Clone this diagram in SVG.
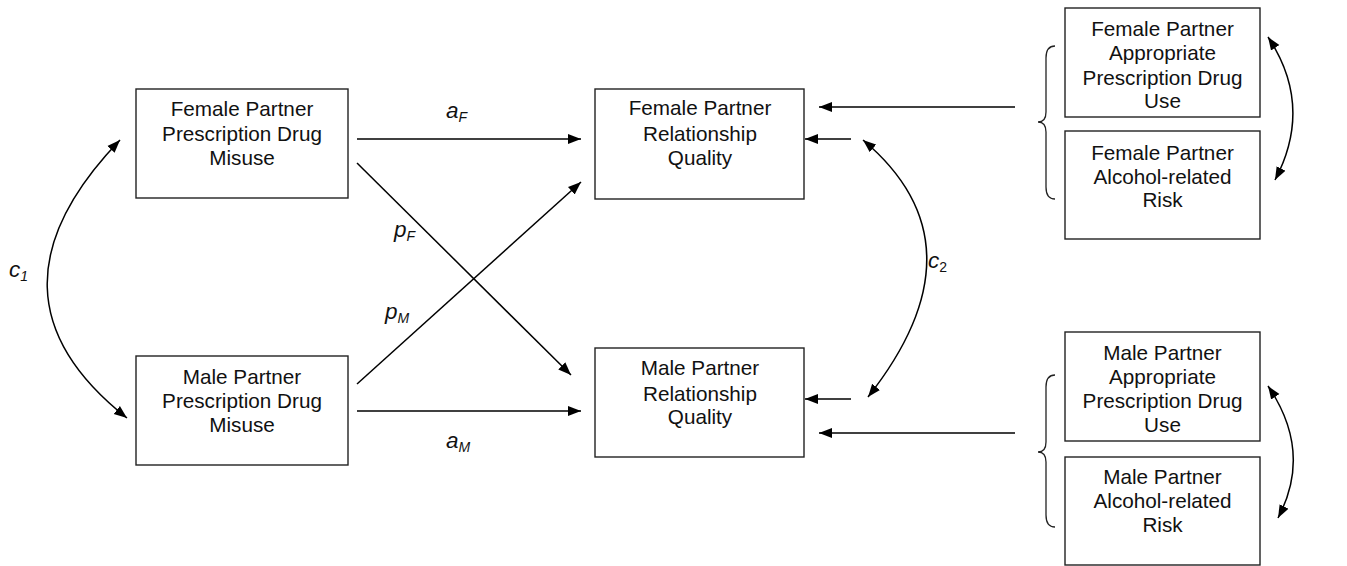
<svg xmlns="http://www.w3.org/2000/svg" width="1347" height="566" viewBox="0 0 1347 566">
<defs>
<marker id="ah" markerUnits="userSpaceOnUse" markerWidth="14" markerHeight="12" refX="13" refY="5" orient="auto-start-reverse" viewBox="0 0 14 10">
<path d="M0,0 L13,5 L0,10 z" fill="#000"/>
</marker>
<style>
.box{fill:#fff;stroke:#222;stroke-width:1.4}
.t{font-family:"Liberation Sans",Arial,sans-serif;font-size:20.7px;fill:#111;text-anchor:middle}
.lbl{font-family:"Liberation Sans",Arial,sans-serif;font-size:22.5px;font-style:italic;fill:#111}
.sub{font-size:14px}
.c{fill:none;stroke:#000;stroke-width:1.5}
.a{fill:none;stroke:#000;stroke-width:1.5;marker-end:url(#ah)}
.d{fill:none;stroke:#000;stroke-width:1.5;marker-start:url(#ah);marker-end:url(#ah)}
.br{fill:none;stroke:#222;stroke-width:1.3}
</style>
</defs>
<rect width="1347" height="566" fill="#fff"/>

<g id="fpdm">
<rect class="box" x="136" y="89" width="212" height="109"/>
<text class="t" x="242" y="116">Female Partner</text>
<text class="t" x="242" y="141">Prescription Drug</text>
<text class="t" x="242" y="165">Misuse</text>
</g>
<g id="mpdm">
<rect class="box" x="136" y="356" width="212" height="109"/>
<text class="t" x="242" y="384">Male Partner</text>
<text class="t" x="242" y="408">Prescription Drug</text>
<text class="t" x="242" y="432">Misuse</text>
</g>
<g id="frq">
<rect class="box" x="595" y="89" width="209" height="110"/>
<text class="t" x="700" y="115">Female Partner</text>
<text class="t" x="700" y="141">Relationship</text>
<text class="t" x="700" y="165">Quality</text>
</g>
<g id="mrq">
<rect class="box" x="595" y="348" width="209" height="109"/>
<text class="t" x="700" y="375">Male Partner</text>
<text class="t" x="700" y="401">Relationship</text>
<text class="t" x="700" y="424">Quality</text>
</g>
<g id="fapdu">
<rect class="box" x="1065" y="8" width="195" height="109"/>
<text class="t" x="1162.5" y="36">Female Partner</text>
<text class="t" x="1162.5" y="60">Appropriate</text>
<text class="t" x="1162.5" y="85">Prescription Drug</text>
<text class="t" x="1162.5" y="108">Use</text>
</g>
<g id="farr">
<rect class="box" x="1065" y="131" width="195" height="108"/>
<text class="t" x="1162.5" y="160">Female Partner</text>
<text class="t" x="1162.5" y="184">Alcohol-related</text>
<text class="t" x="1162.5" y="207">Risk</text>
</g>
<g id="mapdu">
<rect class="box" x="1065" y="332" width="195" height="109"/>
<text class="t" x="1162.5" y="360">Male Partner</text>
<text class="t" x="1162.5" y="384">Appropriate</text>
<text class="t" x="1162.5" y="408">Prescription Drug</text>
<text class="t" x="1162.5" y="432">Use</text>
</g>
<g id="marr">
<rect class="box" x="1065" y="457" width="195" height="108"/>
<text class="t" x="1162.5" y="484">Male Partner</text>
<text class="t" x="1162.5" y="508">Alcohol-related</text>
<text class="t" x="1162.5" y="532">Risk</text>
</g>

<g id="braces">
<path class="br" d="M1055,46 Q1046,46 1046,58 L1046,112 Q1046,122 1038,122 Q1046,122 1046,132 L1046,187 Q1046,199 1055,199"/>
<path class="br" d="M1055,375 Q1046,375 1046,387 L1046,442 Q1046,452 1038,452 Q1046,452 1046,462 L1046,515 Q1046,527 1055,527"/>
</g>

<g id="connectors">
<line class="a" x1="357" y1="139" x2="581" y2="139"/>
<line class="a" x1="357" y1="411" x2="581" y2="411"/>
<line class="a" x1="357" y1="163" x2="571" y2="375"/>
<line class="a" x1="357" y1="384" x2="581" y2="182"/>
<line class="a" x1="1015" y1="107" x2="819" y2="107"/>
<line class="a" x1="851" y1="139" x2="805" y2="139"/>
<line class="a" x1="851" y1="399" x2="805" y2="399"/>
<line class="a" x1="1015" y1="433" x2="819" y2="433"/>
<path class="d" d="M120,140 Q-29,295 127,418"/>
<path class="d" d="M863,140 Q988,245 868,397"/>
<path class="d" d="M1268,37 Q1314,106 1275,180"/>
<path class="d" d="M1268,386 Q1313,452 1278,518"/>
</g>

<g id="labels">
<text class="lbl" x="446" y="118">a<tspan class="sub" dy="4">F</tspan></text>
<text class="lbl" x="394" y="237">p<tspan class="sub" dy="4">F</tspan></text>
<text class="lbl" x="385" y="319">p<tspan class="sub" dy="4">M</tspan></text>
<text class="lbl" x="446" y="448">a<tspan class="sub" dy="4">M</tspan></text>
<text class="lbl" x="9" y="277">c<tspan class="sub" dy="4">1</tspan></text>
<text class="lbl" x="928" y="268">c<tspan class="sub" dy="4" font-style="normal">2</tspan></text>
</g>
</svg>
